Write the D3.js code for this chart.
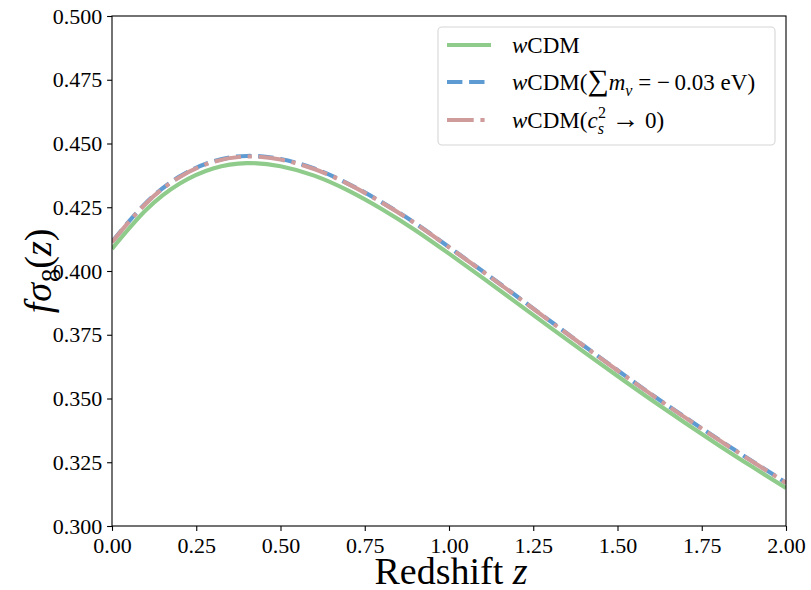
<!DOCTYPE html>
<html>
<head>
<meta charset="utf-8">
<script src="https://cdn.jsdelivr.net/npm/d3@7"></script>
<style>
  html, body { margin: 0; padding: 0; background: #fff; }
  svg text { font-family: "Liberation Serif", "Times New Roman", Times, "DejaVu Serif", serif; }
</style>
</head>
<body>
<svg id="chart" width="811" height="590"></svg>
<script>
// Redshift grid and growth-rate curves f*sigma8(z)
const redshift = [0.0, 0.1, 0.2, 0.3, 0.4, 0.5, 0.6, 0.7, 0.8, 0.9, 1.0,
                  1.1, 1.2, 1.3, 1.4, 1.5, 1.6, 1.7, 1.8, 1.9, 2.0];
const fs8_wcdm = [0.4087, 0.4238, 0.4342, 0.4402, 0.4423, 0.4411, 0.4374, 0.4316, 0.4243, 0.4160, 0.4068,
                  0.3973, 0.3876, 0.3779, 0.3683, 0.3588, 0.3495, 0.3405, 0.3317, 0.3232, 0.3149];
const fs8_wcdm_mnu = [0.4115, 0.4266, 0.4370, 0.4430, 0.4451, 0.4439, 0.4402, 0.4343, 0.4270, 0.4187, 0.4094,
                      0.3999, 0.3902, 0.3804, 0.3707, 0.3611, 0.3517, 0.3427, 0.3339, 0.3254, 0.3170];
const fs8_wcdm_cs2 = [0.4113, 0.4264, 0.4368, 0.4428, 0.4449, 0.4437, 0.4400, 0.4342, 0.4269, 0.4186, 0.4093,
                      0.3998, 0.3901, 0.3803, 0.3706, 0.3610, 0.3516, 0.3426, 0.3338, 0.3253, 0.3169];
const xTicks = [0, 0.25, 0.5, 0.75, 1.0, 1.25, 1.5, 1.75, 2.0];
const yTicks = [0.300, 0.325, 0.350, 0.375, 0.400, 0.425, 0.450, 0.475, 0.500];

const FONT = "'Liberation Serif', 'Times New Roman', Times, 'DejaVu Serif', serif";
const svg = d3.select("#chart");
const plot = { left: 112, right: 786, top: 16, bottom: 526 };
const x = d3.scaleLinear().domain([0, 2]).range([plot.left, plot.right]);
const y = d3.scaleLinear().domain([0.3, 0.5]).range([plot.bottom, plot.top]);

const LW = 4.17;
const series = [
  { values: fs8_wcdm,     color: "#8fcb8a", dash: null },
  { values: fs8_wcdm_mnu, color: "#5f9bd3", dash: [15.4, 6.7] },
  { values: fs8_wcdm_cs2, color: "#cf9b9b", dash: [26.7, 6.7, 4.2, 6.7] }
];

svg.append("defs").append("clipPath").attr("id", "clip")
  .append("rect").attr("x", plot.left).attr("y", plot.top)
  .attr("width", plot.right - plot.left).attr("height", plot.bottom - plot.top);

const line = d3.line().curve(d3.curveNatural)
  .x((d, i) => x(redshift[i])).y(d => y(d));

const lines = svg.append("g").attr("clip-path", "url(#clip)");
series.forEach(s => {
  lines.append("path").attr("d", line(s.values))
    .attr("fill", "none").attr("stroke", s.color)
    .attr("stroke-width", LW)
    .attr("stroke-dasharray", s.dash ? s.dash.join(",") : null);
});

// Axes
const fmtX = d3.format(".2f"), fmtY = d3.format(".3f");
const xAxis = svg.append("g").attr("transform", `translate(0,${plot.bottom})`)
  .call(d3.axisBottom(x).tickValues(xTicks).tickFormat(fmtX).tickSize(4.9).tickPadding(4.9));
const yAxis = svg.append("g").attr("transform", `translate(${plot.left},0)`)
  .call(d3.axisLeft(y).tickValues(yTicks).tickFormat(fmtY).tickSize(4.9).tickPadding(4.9));
[xAxis, yAxis].forEach(g => {
  g.attr("font-family", FONT).attr("font-size", 22);
  g.select(".domain").remove();
  g.selectAll(".tick line").attr("stroke", "#000").attr("stroke-width", 1.1);
  g.selectAll(".tick text").attr("fill", "#000").attr("font-family", FONT).attr("font-size", 22);
});
xAxis.selectAll(".tick text").attr("dy", "0.78em");

// Frame
svg.append("rect").attr("x", plot.left).attr("y", plot.top)
  .attr("width", plot.right - plot.left).attr("height", plot.bottom - plot.top)
  .attr("fill", "none").attr("stroke", "#000").attr("stroke-width", 1.1);

// Rich text helper: segments with italic / sub / sup
function rich(sel, segs, size) {
  let shift = 0;
  segs.forEach(s => {
    const t = sel.append("tspan").text(s.t);
    if (s.it) t.attr("font-style", "italic");
    let target = 0, fs = size;
    if (s.sub) { target = 0.24 * size; fs = size * 0.7; }
    if (s.sup) { target = -0.42 * size; fs = size * 0.7; }
    if (s.scale) fs = size * s.scale;
    t.attr("font-size", fs);
    const dy = target - shift;
    if (dy !== 0) t.attr("dy", dy);
    if (s.dx) t.attr("dx", s.dx);
    shift = target;
  });
}

// Axis labels
const xl = svg.append("text").attr("x", 451).attr("y", 584)
  .attr("text-anchor", "middle").attr("font-family", FONT).attr("font-size", 38);
rich(xl, [{ t: "Redshift " }, { t: "z", it: true }], 38);

const yl = svg.append("text").attr("transform", "translate(51,271) rotate(-90)")
  .attr("text-anchor", "middle").attr("font-family", FONT).attr("font-size", 38);
rich(yl, [{ t: "f", it: true, dx: 0 }, { t: "σ", it: true, dx: 1 }, { t: "8", sub: true, dx: 1 },
          { t: "(" }, { t: "z", it: true }, { t: ")" }], 38);

// Legend
const LF = 23;
const leg = svg.append("g");
leg.append("rect").attr("x", 438).attr("y", 27).attr("width", 337).attr("height", 118)
  .attr("rx", 4).attr("fill", "#fff").attr("fill-opacity", 0.8)
  .attr("stroke", "#d6d6d6").attr("stroke-width", 1.1);

const legendLabels = [
  [{ t: "w", it: true }, { t: "CDM" }],
  [{ t: "w", it: true }, { t: "CDM(" }, { t: "∑", scale: 1.3 }, { t: "m", it: true }, { t: "ν", it: true, sub: true },
   { t: " = " }, { t: "−\u20090.03 eV)" }],
  [{ t: "w", it: true }, { t: "CDM(" }, { t: "c", it: true }, { t: "s", it: true, sub: true },
   { t: "2", sup: true, dx: -6 }, { t: " " }, { t: "→", scale: 1.2 }, { t: " 0)" }]
];
const rowY = [45, 82, 120];
series.forEach((s, i) => {
  leg.append("line").attr("x1", 447).attr("x2", 491).attr("y1", rowY[i]).attr("y2", rowY[i])
    .attr("stroke", s.color).attr("stroke-width", LW)
    .attr("stroke-dasharray", s.dash ? s.dash.join(",") : null);
  const t = leg.append("text").attr("x", 512).attr("y", rowY[i] + 8)
    .attr("font-family", FONT).attr("font-size", LF);
  rich(t, legendLabels[i], LF);
});
</script>
</body>
</html>
